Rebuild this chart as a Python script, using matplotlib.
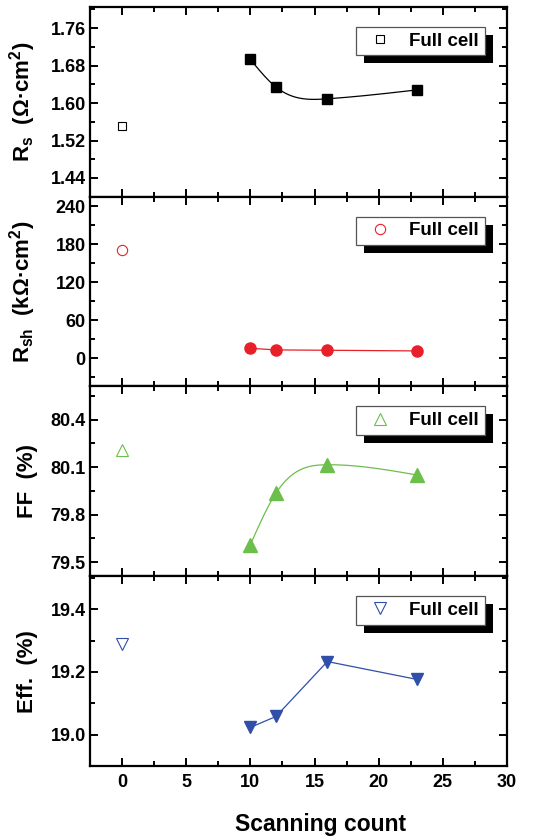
import numpy as np
import matplotlib
matplotlib.use("Agg")
import matplotlib.pyplot as plt
from matplotlib.patches import Rectangle
from matplotlib.transforms import IdentityTransform
from matplotlib.ticker import MultipleLocator, FuncFormatter
from matplotlib.lines import Line2D

plt.rcParams['font.family'] = ['Liberation Sans', 'DejaVu Sans']
plt.rcParams['font.weight'] = 'bold'
plt.rcParams['mathtext.default'] = 'regular'

# Reference cell (count 0) and scanned cells
ref_count = [0]
scan_count = [10, 12, 16, 23]

rs_ref = [1.551]
rs_scan = [1.693, 1.634, 1.609, 1.628]

rsh_ref = [171]
rsh_scan = [15.4, 12.8, 12.3, 11.2]

ff_ref = [80.21]
ff_scan = [79.61, 79.936, 80.115, 80.05]

eff_ref = [19.29]
eff_scan = [19.023, 19.058, 19.233, 19.176]

legend_label = "Full cell"
x_label = "Scanning count"
y_labels = ["R$_{s}$  (\u03a9\u00b7cm$^{2}$)",
            "R$_{sh}$  (k\u03a9\u00b7cm$^{2}$)",
            "FF  (%)",
            "Eff.  (%)"]


def natural_spline(x, y, n=200):
    x = np.asarray(x, float)
    y = np.asarray(y, float)
    m = len(x)
    h = np.diff(x)
    A = np.zeros((m, m))
    r = np.zeros(m)
    A[0, 0] = A[-1, -1] = 1.0
    for i in range(1, m - 1):
        A[i, i - 1] = h[i - 1]
        A[i, i] = 2 * (h[i - 1] + h[i])
        A[i, i + 1] = h[i]
        r[i] = 6 * ((y[i + 1] - y[i]) / h[i] - (y[i] - y[i - 1]) / h[i - 1])
    M = np.linalg.solve(A, r)
    xs = np.linspace(x[0], x[-1], n)
    k = np.clip(np.searchsorted(x, xs) - 1, 0, m - 2)
    hk = h[k]
    a = x[k + 1] - xs
    b = xs - x[k]
    ys = (M[k] * a**3 + M[k + 1] * b**3) / (6 * hk) \
        + (y[k] / hk - M[k] * hk / 6) * a + (y[k + 1] / hk - M[k + 1] * hk / 6) * b
    return xs, ys


fig = plt.figure(figsize=(5.54, 8.4), dpi=100)
gs = fig.add_gridspec(4, 1, left=0.1625, right=0.915, bottom=0.0881, top=0.9917, hspace=0)
axes = [fig.add_subplot(gs[i]) for i in range(4)]
for ax in axes[1:]:
    ax.sharex(axes[0])

panels = [
    dict(ref=rs_ref, scan=rs_scan, color='black', mk='s', ms_f=7.4, ms_o=6.2,
         ylim=(1.40, 1.805), major=0.08, minor=0.04, fmt='{:.2f}', smooth=True),
    dict(ref=rsh_ref, scan=rsh_scan, color='#E8202A', mk='o', ms_f=8.0, ms_o=7.4,
         ylim=(-45, 255), major=60, minor=30, fmt='{:.0f}', smooth=False),
    dict(ref=ff_ref, scan=ff_scan, color='#6CBF4A', mk='^', ms_f=9.4, ms_o=8.6,
         ylim=(79.41, 80.61), major=0.3, minor=0.15, fmt='{:.1f}', smooth=True),
    dict(ref=eff_ref, scan=eff_scan, color='#2F4FA8', mk='v', ms_f=9.2, ms_o=8.6,
         ylim=(18.9, 19.505), major=0.2, minor=0.1, fmt='{:.1f}', smooth=False),
]

legends = []
for ax, p, ylab in zip(axes, panels, y_labels):
    c = p['color']
    if p['smooth']:
        xs, ys = natural_spline(scan_count, p['scan'])
        ax.plot(xs, ys, color=c, lw=0.9, zorder=2)
    else:
        ax.plot(scan_count, p['scan'], color=c, lw=0.9, zorder=2)
    ax.plot(scan_count, p['scan'], linestyle='none', marker=p['mk'], ms=p['ms_f'],
            mfc=c, mec=c, zorder=3)
    ax.plot(ref_count, p['ref'], linestyle='none', marker=p['mk'], ms=p['ms_o'],
            mfc='white', mec=c, mew=0.8, zorder=3)

    ax.set_xlim(-2.5, 30)
    ax.set_ylim(*p['ylim'])
    ax.xaxis.set_major_locator(MultipleLocator(5))
    ax.xaxis.set_minor_locator(MultipleLocator(2.5))
    ax.yaxis.set_major_locator(MultipleLocator(p['major']))
    ax.yaxis.set_minor_locator(MultipleLocator(p['minor']))
    ax.yaxis.set_major_formatter(FuncFormatter(lambda v, pos, f=p['fmt']: f.format(v)))
    ax.tick_params(which='both', direction='in', top=True, right=True,
                   width=1.4, labelsize=13)
    ax.tick_params(which='major', length=5.5)
    ax.tick_params(which='minor', length=3.5)
    ax.tick_params(axis='y', pad=3)
    ax.tick_params(axis='x', pad=6)
    for s in ax.spines.values():
        s.set_linewidth(1.6)
    for t in ax.get_yticklabels() + ax.get_xticklabels():
        t.set_fontweight('bold')

    ax.set_ylabel(ylab, fontsize=16, fontweight='bold')
    ax.yaxis.set_label_coords(-0.125, 0.5)

    handle = Line2D([], [], linestyle='none', marker=p['mk'], ms=p['ms_o'],
                    mfc='white', mec=c, mew=0.8)
    leg = ax.legend([handle], [legend_label], loc='upper right',
                    bbox_to_anchor=(0.947, 0.895), borderaxespad=0,
                    fancybox=False, framealpha=1, edgecolor='#555555',
                    prop=dict(size=13.5, weight='bold'), handlelength=2.0,
                    handletextpad=0.55, borderpad=0.3, numpoints=1)
    leg.get_frame().set_linewidth(0.9)
    legends.append((ax, leg))

for ax in axes[:-1]:
    plt.setp(ax.get_xticklabels(), visible=False)

axes[-1].set_xlabel(x_label, fontsize=16.5, fontweight='bold')
axes[-1].xaxis.set_label_coords(0.552, -0.25)

# Solid drop shadow behind each legend box
fig.canvas.draw()
for ax, leg in legends:
    bb = leg.get_frame().get_window_extent()
    sh = Rectangle((bb.x0 + 8, bb.y0 - 8), bb.width, bb.height,
                   transform=IdentityTransform(), facecolor='black',
                   edgecolor='none', zorder=4.5, clip_on=False)
    ax.add_artist(sh)

fig.savefig("out.png", dpi=100)
